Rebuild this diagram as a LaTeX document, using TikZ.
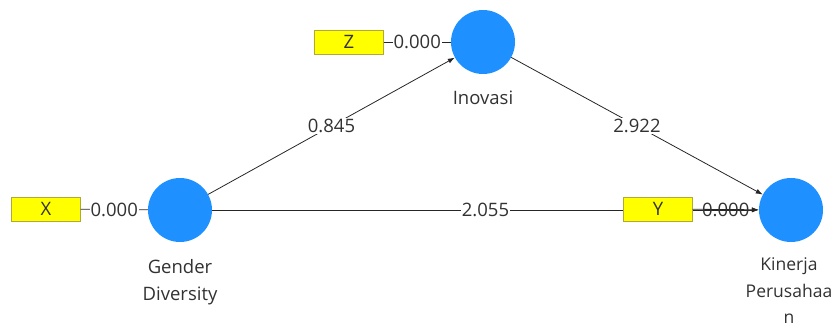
\documentclass[tikz,border=0pt]{standalone}
\usepackage{fontspec}
\setmainfont{Open Sans}
\usetikzlibrary{arrows.meta}
\definecolor{lvblue}{RGB}{30,144,255}
\definecolor{indyellow}{RGB}{255,255,0}
\definecolor{txtgray}{RGB}{50,50,50}
\begin{document}
\begin{tikzpicture}
		[x=1pt,y=-1pt,
		font=\fontsize{18.5}{27}\selectfont,
		every node/.style={text=txtgray},
		latent/.style={circle,fill=lvblue,minimum size=64pt,inner sep=0pt},
		indicator/.style={rectangle,draw=olive!70,fill=indyellow,minimum width=69pt,minimum height=24pt,inner sep=0pt},
		weight/.style={fill=white,inner sep=1pt},
		arc/.style={draw=black!85,line width=0.8pt},
		path/.style={arc,-{Latex[length=7pt,width=5pt]}}]
		\useasboundingbox (0,0) rectangle (835,329);
		% latent variables
		\node[latent] (gender) at (180,210) {};
		\node[latent] (inovasi) at (483,42) {};
		\node[latent] (kinerja) at (791,210) {};
		\node[align=center] (genderlbl) at (180,282) {Gender\\Diversity};
		\node (inovasilbl) at (483,98) {Inovasi};
		\node[align=center,font=\fontsize{17.5}{26.5}\selectfont] (kinerjalbl) at (789,291) {Kinerja\\Perusahaa\\n};
		% inner model
		\draw[path] (gender) -- node[weight]{0.845} (inovasi);
		\draw[path] (inovasi) -- node[weight]{2.922} (kinerja);
		\draw[path] (gender) -- node[weight,pos=0.5]{2.055} (kinerja);
		% indicators
		\node[indicator] (x) at (46,209) {X};
		\node[indicator] (z) at (349,42) {Z};
		\node[indicator] (y) at (658,209) {Y};
		\draw[arc] (x) -- node[weight]{0.000} (gender);
		\draw[arc] (z) -- node[weight]{0.000} (inovasi);
		\draw[path] (y) -- node[inner sep=1pt]{0.000} (kinerja);
	\end{tikzpicture}
\end{document}
